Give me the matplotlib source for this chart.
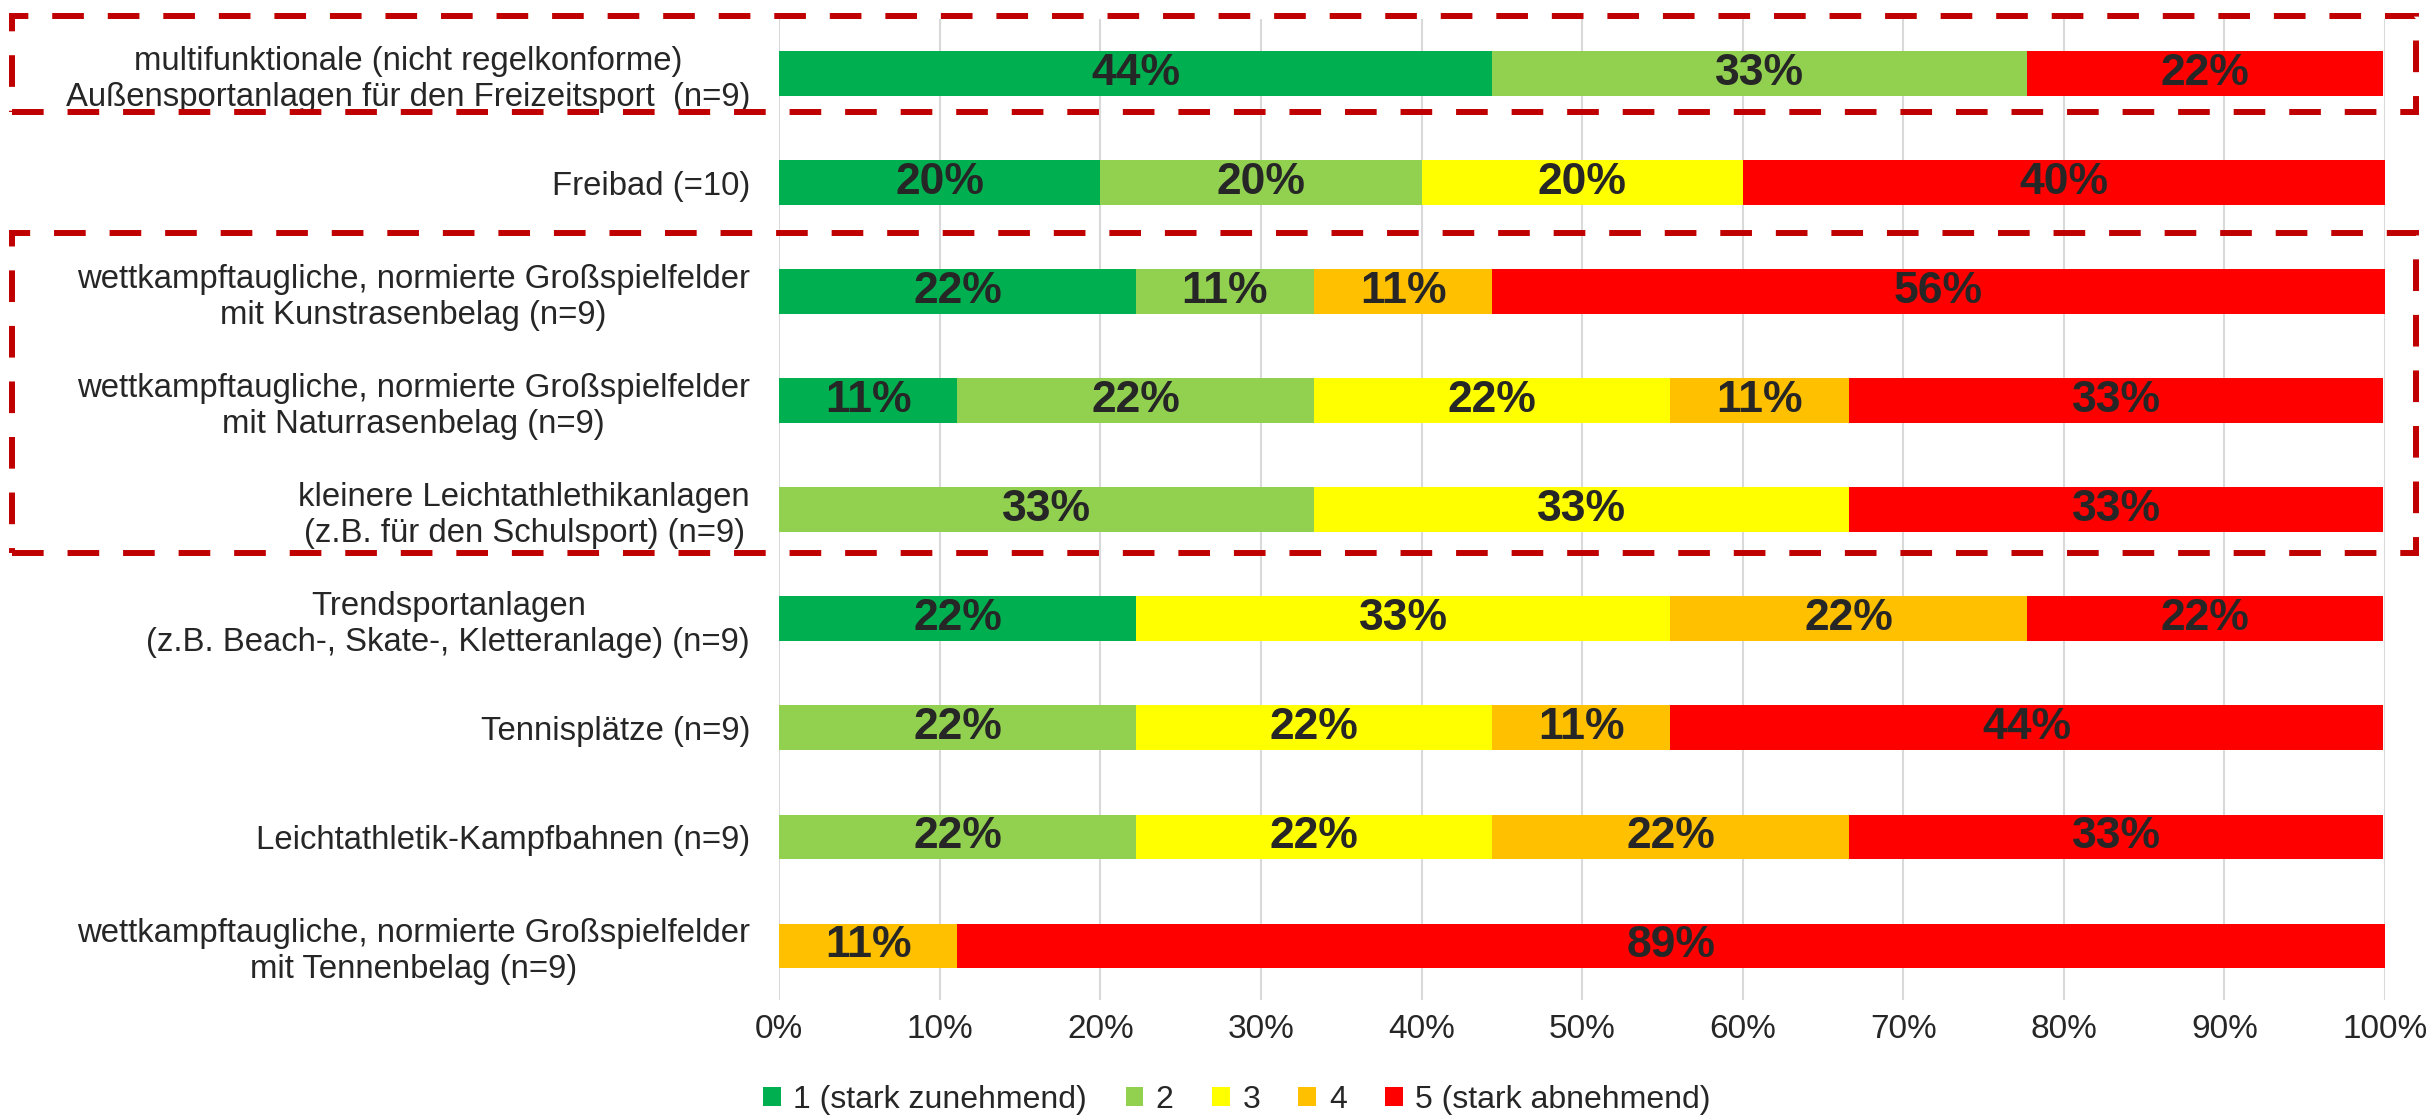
import numpy as np
import matplotlib
matplotlib.use('Agg')
import matplotlib.pyplot as plt
from matplotlib.patches import Rectangle, Patch

plt.rcParams['font.family'] = ['Liberation Sans', 'DejaVu Sans']

kategorien = [
    'multifunktionale (nicht regelkonforme)\nAußensportanlagen für den Freizeitsport  (n=9)',
    'Freibad (=10)',
    'wettkampftaugliche, normierte Großspielfelder\nmit Kunstrasenbelag (n=9)',
    'wettkampftaugliche, normierte Großspielfelder\nmit Naturrasenbelag (n=9)',
    'kleinere Leichtathlethikanlagen\n(z.B. für den Schulsport) (n=9)',
    'Trendsportanlagen\n(z.B. Beach-, Skate-, Kletteranlage) (n=9)',
    'Tennisplätze (n=9)',
    'Leichtathletik-Kampfbahnen (n=9)',
    'wettkampftaugliche, normierte Großspielfelder\nmit Tennenbelag (n=9)',
]
stufen = ['1 (stark zunehmend)', '2', '3', '4', '5 (stark abnehmend)']
farben = ['#00B050', '#92D050', '#FFFF00', '#FFC000', '#FF0000']

# Anteile in Prozent je Stufe (1..5)
s1 = [44.4, 20, 22.2, 11.1, 0, 22.2, 0, 0, 0]
s2 = [33.3, 20, 11.1, 22.2, 33.3, 0, 22.2, 22.2, 0]
s3 = [0, 20, 0, 22.2, 33.3, 33.3, 22.2, 22.2, 0]
s4 = [0, 0, 11.1, 11.1, 0, 22.2, 11.1, 22.2, 11.1]
s5 = [22.2, 40, 55.6, 33.3, 33.3, 22.2, 44.4, 33.3, 88.9]
serien = [s1, s2, s3, s4, s5]

textfarbe = '#262626'

fig = plt.figure(figsize=(24.35, 11.16), dpi=100)
ax = fig.add_axes([0.320, 0.1035, 0.6595, 0.8795])

y = np.arange(len(kategorien))
links = np.zeros(len(kategorien))
for werte, farbe in zip(serien, farben):
    werte = np.array(werte, dtype=float)
    ax.barh(y, werte, left=links, height=0.41, color=farbe, zorder=2)
    for yi, (l, w) in enumerate(zip(links, werte)):
        if w > 0:
            ax.text(l + w / 2, yi, '%d%%' % round(w), ha='center', va='center',
                    fontsize=32, fontweight='bold', color=textfarbe, zorder=3)
    links = links + werte

ax.set_xlim(0, 100)
ax.set_ylim(len(kategorien) - 0.5, -0.5)
ax.set_xticks(np.arange(0, 101, 10))
ax.set_xticklabels(['%d%%' % v for v in range(0, 101, 10)])
ax.set_yticks(y)
ax.set_yticklabels(kategorien, multialignment='center')
ax.tick_params(axis='y', length=0, pad=21, labelsize=23.7, labelcolor=textfarbe)
ax.tick_params(axis='x', length=0, pad=10, labelsize=24, labelcolor=textfarbe)
ax.grid(axis='x', color='#D9D9D9', linewidth=1.5, zorder=0)
for sp in ax.spines.values():
    sp.set_visible(False)

handles = [Patch(facecolor=f, edgecolor='none') for f in farben]
fig.legend(handles, stufen, loc='center', bbox_to_anchor=(0.508, 0.0145), ncol=5,
           frameon=False, fontsize=23, handlelength=0.55, handleheight=0.55,
           handletextpad=0.4, columnspacing=1.2, labelcolor=textfarbe)

# gestrichelte Rahmen
for (x0, y0, x1, y1) in [(0.0049, 0.8996, 0.992, 0.9857), (0.0049, 0.5045, 0.992, 0.791)]:
    fig.patches.append(Rectangle((x0, y0), x1 - x0, y1 - y0, transform=fig.transFigure,
                                 fill=False, edgecolor='#C00000', linewidth=4.3,
                                 linestyle=(0, (5.3, 4)), zorder=5))

fig.savefig('out.png', dpi=100)
plt.close()
